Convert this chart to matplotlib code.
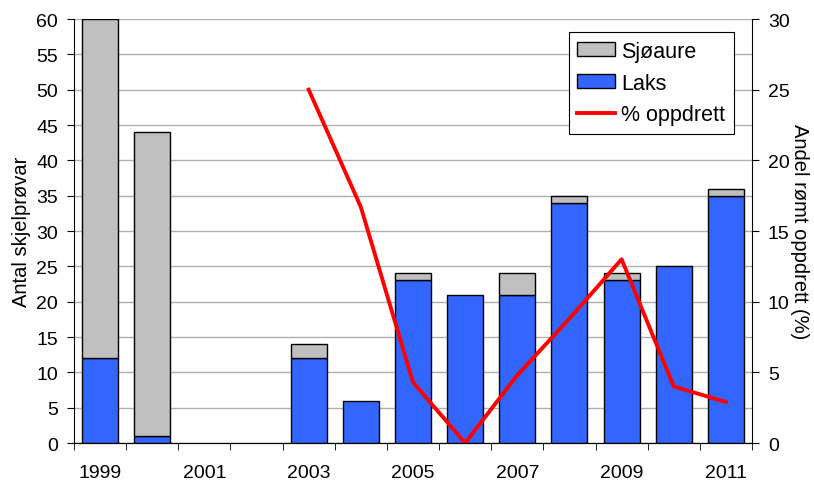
import numpy as np
import matplotlib.pyplot as plt

plt.rcParams['font.family'] = ['Liberation Sans', 'DejaVu Sans']

years = [1999, 2000, 2001, 2002, 2003, 2004, 2005, 2006, 2007, 2008, 2009, 2010, 2011]
laks = [12, 1, 0, 0, 12, 6, 23, 21, 21, 34, 23, 25, 35]
sjoaure = [48, 43, 0, 0, 2, 0, 1, 0, 3, 1, 1, 0, 1]
# % oppdrett, only from 2003 onwards
pct_years = [2003, 2004, 2005, 2006, 2007, 2008, 2009, 2010, 2011]
pct_oppdrett = [25.0, 16.7, 4.3, 0.0, 4.8, 8.8, 13.0, 4.0, 2.9]

x = np.arange(len(years))
x_pct = [years.index(y) for y in pct_years]
laks = np.array(laks)
sjoaure = np.array(sjoaure)

fig = plt.figure(figsize=(8.14, 4.81), dpi=100)
ax = fig.add_axes([0.0909, 0.0769, 0.8329, 0.8815])

w = 0.69
# skip empty years so no flat bar outline is drawn
m = laks > 0
ax.bar(x[m], laks[m], w, color='#3366FF', edgecolor='black', linewidth=1,
       label='Laks', zorder=3)
m = sjoaure > 0
ax.bar(x[m], sjoaure[m], w, bottom=laks[m], color='#C0C0C0', edgecolor='black',
       linewidth=1, label='Sjøaure', zorder=3)

ax.set_xlim(-0.5, len(years) - 0.5)
ax.set_ylim(0, 60)
ax.set_yticks(range(0, 61, 5))
ax.yaxis.grid(True, color='#B0B0B0', linewidth=1)
ax.set_axisbelow(True)

ax.set_xticks(x[::2])
ax.set_xticklabels([str(y) for y in years[::2]], fontsize=14)
ax.set_xticks(np.arange(-0.5, len(years), 1), minor=True)
ax.tick_params(axis='x', which='major', length=0, pad=15)
ax.tick_params(axis='x', which='minor', length=5, direction='out')
ax.tick_params(axis='y', labelsize=14, length=5, direction='out', pad=6.5)
ax.set_ylabel('Antal skjelprøvar', fontsize=14.5, labelpad=4)
ax.spines['top'].set_visible(False)
ax.spines['right'].set_visible(False)

ax2 = ax.twinx()
line, = ax2.plot(x_pct, pct_oppdrett, color='red', linewidth=2.8,
                 label='% oppdrett', zorder=4)
ax2.set_ylim(0, 30)
ax2.set_yticks(range(0, 31, 5))
ax2.tick_params(axis='y', labelsize=14, length=5, direction='out', pad=6.5)
ax2.set_ylabel('Andel rømt oppdrett (%)', fontsize=14.5, rotation=270, labelpad=14)
ax2.spines['top'].set_visible(False)
ax2.spines['left'].set_visible(False)

h, l = ax.get_legend_handles_labels()
leg = ax2.legend([h[1], h[0], line], [l[1], l[0], '% oppdrett'], loc='upper right',
                 bbox_to_anchor=(0.9735, 0.969), borderaxespad=0, fontsize=15.5,
                 fancybox=False, edgecolor='black', framealpha=1, borderpad=0.4,
                 labelspacing=0.5, handlelength=1.75, handleheight=0.6,
                 handletextpad=0.3)
leg.get_frame().set_linewidth(0.8)

fig.savefig('out.png', dpi=100)
